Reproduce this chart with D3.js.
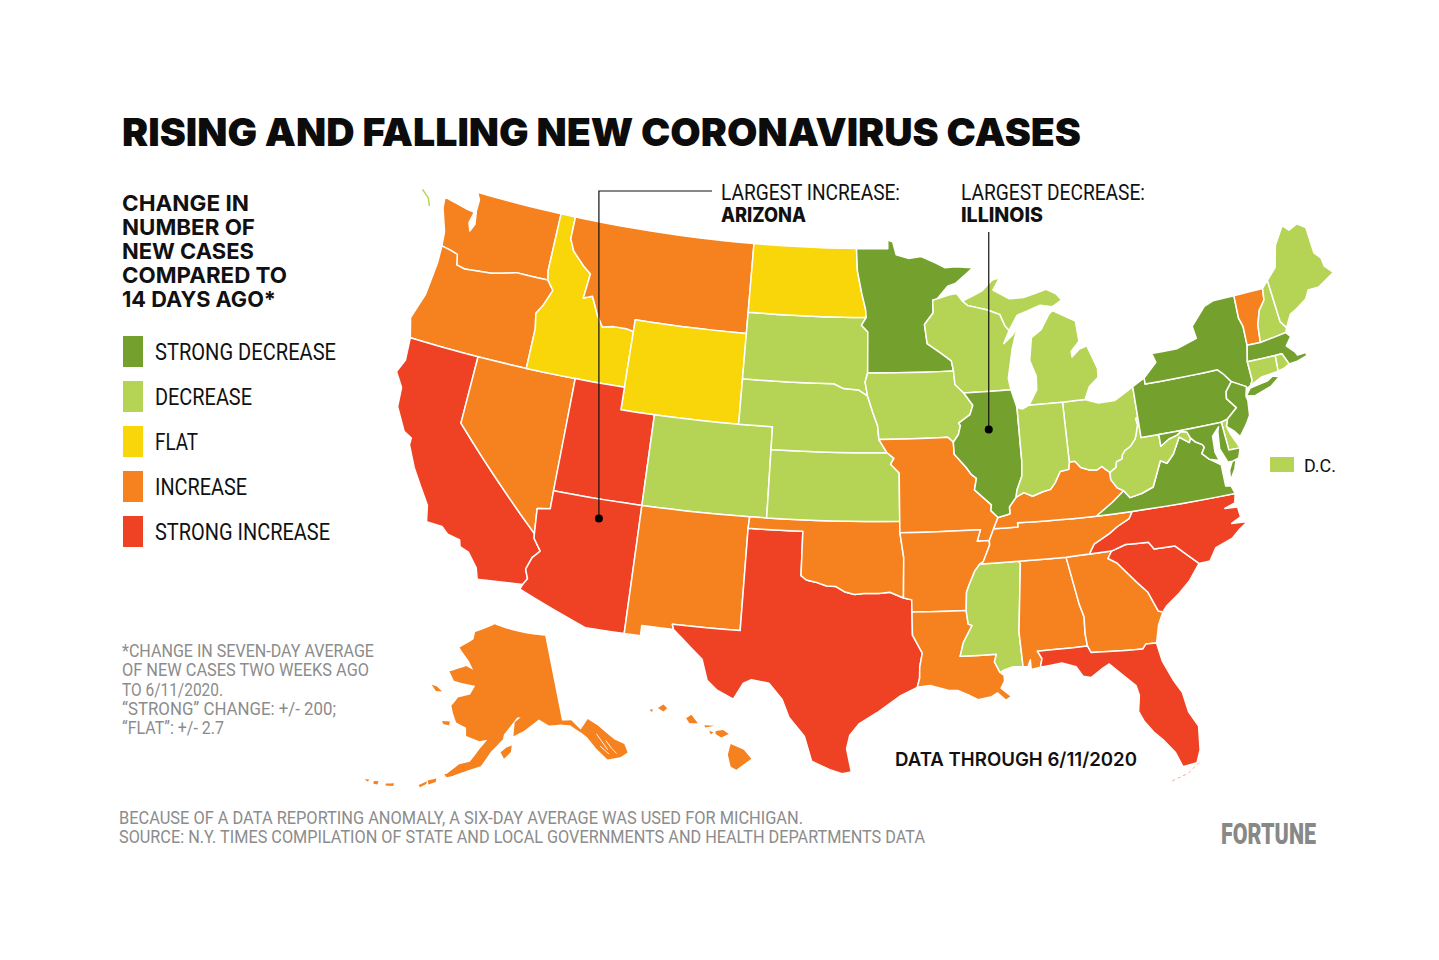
<!DOCTYPE html>
<html>
<head>
<meta charset="utf-8">
<title>Rising and falling new coronavirus cases</title>
<script src="https://cdn.jsdelivr.net/npm/d3@7"></script>
<style>
  html, body { margin: 0; background: #fff; }
  svg { display: block; }
</style>
</head>
<body>
<svg id="chart" width="1439" height="960"></svg>
<script>
//  Legend levels and their colours.
var levels = ["STRONG DECREASE", "DECREASE", "FLAT", "INCREASE", "STRONG INCREASE"];
var levelColors = ["#74a12e", "#b5d455", "#f8d60a", "#f6821f", "#ef4123"];

//  Which level every state falls in.
var strongDecreaseStates = ["MN", "IL", "NY", "PA", "NJ", "MA", "VA", "MD"];
var decreaseStates = ["ME", "NH", "CT", "RI", "DE", "WV", "OH", "IN", "MI", "WI", "IA", "SD", "NE", "KS", "CO", "MS"];
var flatStates = ["ID", "WY", "ND"];
var increaseStates = ["WA", "OR", "NV", "MT", "NM", "OK", "MO", "AR", "LA", "AL", "GA", "TN", "KY", "VT", "AK", "HI"];
var strongIncreaseStates = ["CA", "UT", "AZ", "TX", "FL", "SC", "NC"];

//  Shared river borders, lon/lat.
var ohioWV = [[-80.52,40.64],[-80.66,40.58],[-80.61,40.3],[-80.73,40.0],[-80.87,39.7],[-81.2,39.42],[-81.56,39.27],[-81.76,39.08],[-81.8,38.93],[-82.14,38.84],[-82.22,38.6],[-82.59,38.42]];
var ohioKY = [[-82.85,38.6],[-83.0,38.73],[-83.3,38.6],[-83.76,38.65],[-84.2,38.8],[-84.5,39.1],[-84.82,39.1]];
var indianaKY = [[-84.9,38.78],[-85.4,38.73],[-85.75,38.27],[-86.05,38.0],[-86.5,37.93],[-87.1,37.78],[-87.57,37.97],[-88.03,37.8]];
var illinoisKY = [[-88.45,37.4],[-88.45,37.1],[-88.6,37.07],[-89.13,36.98]];
var wabash = [[-87.95,38.1],[-87.6,38.7],[-87.53,39.35]];
var westVirginiaKY = [[-82.6,38.1],[-82.3,37.7],[-81.97,37.54]];
var kentuckyTN = [[-83.68,36.6],[-85.0,36.62],[-86.5,36.65],[-88.07,36.68],[-88.07,36.5],[-89.42,36.5]];
var missouriIL = [[-89.5,37.3],[-89.45,37.55],[-89.9,37.9],[-90.35,38.25],[-90.2,38.75],[-90.5,38.95],[-90.75,39.25],[-91.4,39.85],[-91.42,40.38]];
var iowaIL = [[-91.1,40.7],[-90.95,41.1],[-91.05,41.2],[-90.35,41.55],[-90.15,41.95],[-90.65,42.51]];
var iowaWI = [[-91.15,42.9],[-91.2,43.5]];
var minnesotaWI = [[-91.3,43.95],[-91.9,44.3],[-92.75,44.75],[-92.88,45.6],[-92.3,46.1],[-92.3,46.66],[-92.02,46.71]];
var arkansasEast = [[-89.7,35.8],[-90.1,35.1],[-90.3,35.0],[-90.6,34.7],[-90.95,34.1],[-91.1,33.8],[-91.17,33.0]];
var louisianaMS = [[-91.1,32.4],[-90.9,32.33],[-91.4,31.6],[-91.6,31.0],[-89.73,31.0],[-89.85,30.67],[-89.6,30.2]];
var virginiaWV = [[-77.83,39.13],[-78.35,39.45],[-78.85,38.77],[-79.3,38.42],[-79.65,38.58],[-80.3,37.5],[-81.0,37.3],[-81.68,37.2],[-81.97,37.54]];
var potomac = [[-77.04,38.8],[-77.12,38.93],[-77.5,39.12],[-77.72,39.32]];
var marylandWV = [[-77.85,39.6],[-78.2,39.68],[-78.45,39.55],[-78.95,39.45],[-79.48,39.2]];
var idahoMT = [[-116.05,48.0],[-115.7,47.5],[-114.9,46.95],[-114.35,46.65],[-114.5,45.55],[-113.95,45.7],[-113.45,44.95],[-113.0,44.45],[-112.3,44.55],[-111.5,44.55],[-111.05,44.48]];
var snake = [[-117.03,43.8],[-117.2,44.45],[-116.85,44.9],[-116.47,45.6],[-116.92,46.0]];
var columbia = [[-124.0,46.27],[-123.4,46.2],[-122.9,46.1],[-122.75,45.65],[-122.2,45.57],[-121.2,45.65],[-120.5,45.7],[-119.3,45.93],[-118.98,46.0],[-116.92,46.0]];
var colorado = [[-114.63,35.0],[-114.6,34.8],[-114.14,34.3],[-114.5,33.95],[-114.72,33.4],[-114.52,33.0],[-114.72,32.72]];
var redRiver = [[-100.0,34.56],[-99.7,34.38],[-99.2,34.3],[-98.6,34.15],[-98.1,34.13],[-97.6,33.9],[-97.1,33.8],[-96.6,33.85],[-95.8,33.85],[-95.2,33.9],[-94.48,33.64]];
var sabine = [[-94.04,32.0],[-93.55,31.2],[-93.7,30.6],[-93.72,30.1],[-93.85,29.7]];
var savannah = [[-83.35,34.7],[-82.9,34.45],[-82.0,33.5],[-81.5,33.0],[-81.1,32.1],[-80.87,32.03]];
var carolinas = [[-82.3,35.2],[-81.05,35.15],[-80.8,34.82],[-79.67,34.8],[-78.55,33.86]];
var tennesseeNC = [[-81.68,36.59],[-81.9,36.3],[-82.6,36.03],[-83.1,35.77],[-84.0,35.4],[-84.32,35.0]];
var missouriKS = [[-95.3,40.0],[-94.9,39.75],[-95.1,39.5],[-94.61,39.11],[-94.62,37.0]];
var iowaNE = [[-95.77,40.58],[-95.85,41.2],[-96.1,41.7],[-96.45,42.49]];
var northDakotaMN = [[-97.23,49.0],[-97.15,48.0],[-96.85,47.0],[-96.6,46.3],[-96.56,45.94]];
var southDakotaMN = [[-96.56,45.94],[-96.85,45.6],[-96.45,45.3],[-96.45,43.5],[-96.6,43.1],[-96.45,42.49]];
var southDakotaNE = [[-97.0,42.75],[-97.9,42.8],[-98.5,43.0],[-104.05,43.0]];
var delawareRiver = [[-75.05,41.75],[-74.7,41.36],[-75.13,40.98],[-75.2,40.68],[-74.75,40.2],[-75.4,39.8]];
var connecticutRiver = [[-71.5,45.01],[-71.6,44.5],[-72.05,44.1],[-72.35,43.5],[-72.46,42.73]];
var vermontNY = [[-73.35,45.01],[-73.4,44.0],[-73.25,43.6],[-73.28,42.75]];

function rev(line) { return line.slice().reverse(); }

//  State outlines, lon/lat.
var WA = [[-117.03,49.0],[-122.76,49.0],[-122.5,48.7],[-122.5,48.2],[-122.35,47.6],[-122.55,47.25],[-122.75,47.6],[-122.6,48.1],[-123.1,48.15],[-124.73,48.38],[-124.65,47.9],[-124.1,46.9]].concat(columbia, [[-117.04,46.4]]);
var OR = columbia.concat(rev(snake), [[-117.03,42.0],[-124.21,42.0],[-124.55,42.84],[-124.1,44.0],[-123.95,45.5]]);
var CA = [[-124.21,42.0],[-120.0,42.0],[-120.0,39.0]].concat(colorado, [[-117.12,32.53],[-117.3,33.0],[-117.9,33.6],[-118.4,33.75],[-118.5,34.03],[-119.2,34.15],[-119.6,34.42],[-120.47,34.45],[-120.65,35.15],[-121.9,36.6],[-122.5,37.5],[-122.5,37.8],[-123.0,38.0],[-123.75,38.95],[-123.85,39.8],[-124.4,40.4],[-124.1,41.0]]);
var NV = [[-120.0,42.0],[-114.04,42.0],[-114.04,36.2],[-114.75,36.1],[-114.63,35.0],[-120.0,39.0]];
var ID = [[-117.03,49.0],[-116.05,49.0]].concat(idahoMT, [[-111.05,42.0],[-117.03,42.0]], snake, [[-117.04,46.4]]);
var MT = [[-116.05,49.0],[-104.05,49.0],[-104.05,45.0],[-111.05,45.0]].concat(rev(idahoMT));
var WY = [[-111.05,45.0],[-104.05,45.0],[-104.05,41.0],[-111.05,41.0]];
var UT = [[-114.04,42.0],[-111.05,42.0],[-111.05,41.0],[-109.05,41.0],[-109.05,37.0],[-114.05,37.0]];
var CO = [[-109.05,41.0],[-102.05,41.0],[-102.05,37.0],[-109.05,37.0]];
var AZ = [[-114.05,37.0],[-109.05,37.0],[-109.05,31.33],[-111.07,31.33],[-114.81,32.49]].concat(rev(colorado), [[-114.75,36.1],[-114.04,36.2]]);
var NM = [[-109.05,37.0],[-103.0,37.0],[-103.04,36.5],[-103.06,32.0],[-106.62,32.0],[-106.53,31.78],[-108.2,31.78],[-108.2,31.33],[-109.05,31.33]];
var TX = [[-103.04,36.5],[-100.0,36.5]].concat(redRiver, [[-94.04,33.55],[-94.04,33.02]], sabine, [[-94.7,29.35],[-95.1,29.1],[-95.9,28.6],[-96.8,28.1],[-97.25,27.6],[-97.4,27.0],[-97.15,25.96],[-97.6,25.88],[-98.2,26.05],[-99.1,26.4],[-99.5,27.5],[-100.3,28.3],[-100.7,29.1],[-101.4,29.77],[-102.3,29.88],[-102.7,29.7],[-103.15,28.97],[-104.0,29.3],[-104.55,29.7],[-104.9,30.6],[-106.0,31.4],[-106.53,31.78],[-106.62,32.0],[-103.06,32.0]]);
var OK = [[-103.0,37.0],[-94.62,37.0],[-94.62,36.5],[-94.43,35.4]].concat(rev(redRiver), [[-100.0,36.5],[-103.04,36.5]]);
var KS = [[-102.05,40.0]].concat(missouriKS, [[-102.05,37.0]]);
var NE = [[-104.05,43.0]].concat(rev(southDakotaNE), rev(iowaNE), [[-95.3,40.0],[-102.05,40.0],[-102.05,41.0],[-104.05,41.0]]);
var SD = [[-104.05,45.94]].concat(southDakotaMN, southDakotaNE);
var ND = [[-104.05,49.0]].concat(northDakotaMN, [[-104.05,45.94]]);
var MN = [[-97.23,49.0],[-95.15,49.0],[-95.15,49.38],[-94.82,49.3],[-94.6,48.72],[-93.8,48.55],[-92.95,48.62],[-92.0,48.3],[-91.4,48.07],[-90.75,48.1],[-89.6,48.0],[-90.8,47.35],[-91.3,47.25],[-92.02,46.71]].concat(rev(minnesotaWI), [[-91.2,43.5],[-96.45,43.5]], rev(southDakotaMN).slice(2), rev(northDakotaMN));
var IA = [[-96.45,43.5],[-91.2,43.5]].concat(rev(iowaWI), rev(iowaIL), [[-91.42,40.38],[-91.73,40.61]], iowaNE, [[-96.6,43.1]]);
var MO = [[-95.77,40.58],[-91.73,40.61],[-91.42,40.38]].concat(rev(missouriIL), [[-89.13,36.98],[-89.42,36.5],[-89.7,36.0],[-90.37,36.0],[-90.15,36.5],[-94.62,36.5],[-94.62,37.0]], rev(missouriKS));
var AR = [[-94.62,36.5],[-90.15,36.5],[-90.37,36.0],[-89.7,36.0]].concat(arkansasEast, [[-94.04,33.02],[-94.04,33.55],[-94.48,33.64],[-94.43,35.4]]);
var LA = [[-94.04,33.02],[-91.17,33.0]].concat(louisianaMS, [[-89.4,30.05],[-89.4,29.8],[-89.6,29.5],[-89.1,29.1],[-89.4,28.95],[-89.8,29.3],[-90.1,29.15],[-90.8,29.05],[-91.3,29.3],[-91.8,29.5],[-92.3,29.53],[-93.2,29.77]], rev(sabine));
var MS = [[-91.17,33.0],[-91.1,33.8],[-90.95,34.1],[-90.6,34.7],[-90.3,35.0],[-88.2,35.0],[-88.1,34.9],[-88.47,31.9],[-88.4,30.37],[-88.9,30.4],[-89.35,30.3]].concat(rev(louisianaMS));
var AL = [[-88.2,35.0],[-85.6,34.98],[-85.18,32.87],[-85.0,32.3],[-85.05,31.55],[-85.0,31.0],[-87.6,31.0],[-87.4,30.65],[-87.52,30.28],[-88.0,30.22],[-88.0,30.65],[-88.15,30.35],[-88.4,30.37],[-88.47,31.9],[-88.1,34.9]];
var GA = [[-85.6,34.98],[-83.11,35.0]].concat(savannah, [[-81.2,31.5],[-81.45,30.72],[-82.0,30.75],[-82.2,30.55],[-84.86,30.7],[-85.0,31.0],[-85.05,31.55],[-85.0,32.3],[-85.18,32.87]]);
var FL = [[-87.6,31.0],[-85.0,31.0],[-84.86,30.7],[-82.2,30.55],[-82.0,30.75],[-81.45,30.72],[-81.3,29.9],[-80.9,29.0],[-80.55,28.4],[-80.4,27.5],[-80.03,26.8],[-80.15,25.75],[-80.4,25.2],[-81.1,25.13],[-81.35,25.8],[-81.85,26.45],[-82.25,26.85],[-82.65,27.4],[-82.85,27.85],[-82.7,28.55],[-82.8,29.0],[-83.4,29.55],[-84.0,30.1],[-84.35,29.95],[-85.0,29.6],[-85.4,29.7],[-85.7,30.15],[-86.4,30.38],[-87.52,30.28],[-87.4,30.65]];
var SC = [[-83.11,35.0]].concat(carolinas, [[-79.2,33.2],[-79.9,32.7],[-80.65,32.25]], rev(savannah));
var NC = [[-84.32,35.0],[-83.11,35.0]].concat(carolinas, [[-77.95,33.87],[-77.5,34.4],[-76.55,34.65],[-76.0,35.0],[-75.53,35.23],[-76.4,35.3],[-75.85,35.5],[-75.9,35.95],[-76.6,36.0],[-76.0,36.15],[-75.87,36.55]], tennesseeNC);
var TN = [[-90.3,35.0],[-88.2,35.0],[-85.6,34.98],[-84.32,35.0]].concat(rev(tennesseeNC), kentuckyTN, [[-89.7,36.0],[-89.7,35.8],[-90.1,35.1]]);
var KY = [[-89.13,36.98]].concat(rev(illinoisKY).slice(1), [[-88.03,37.8]], rev(indianaKY).slice(1), [[-84.82,39.1]], rev(ohioKY).slice(1), [[-82.59,38.42]], westVirginiaKY, [[-82.7,37.1]], kentuckyTN);
var VA = [[-83.68,36.6],[-81.68,36.59],[-75.87,36.55],[-76.0,36.9],[-76.3,36.95],[-76.3,37.5],[-76.3,37.9],[-76.9,38.25],[-77.25,38.55]].concat(potomac, virginiaWV, [[-82.7,37.1]]);
var VAShore = [[-75.97,37.15],[-75.6,37.6],[-75.4,38.02],[-75.65,37.95],[-75.9,37.6]];
var WV = [[-80.52,40.64],[-80.52,39.72],[-79.48,39.72]].concat(rev(marylandWV), [[-77.72,39.32]], virginiaWV, rev(westVirginiaKY), [[-82.59,38.42]], rev(ohioWV));
var OH = [[-80.52,41.98]].concat(ohioWV, ohioKY, [[-84.8,41.73],[-83.45,41.73],[-82.7,41.5],[-81.7,41.5]]);
var MI = [[-84.8,41.73],[-86.8,41.76],[-86.25,42.4],[-86.2,43.0],[-86.5,43.7],[-86.25,44.7],[-85.6,45.0],[-85.0,45.65],[-84.75,45.78],[-83.4,45.2],[-83.35,44.3],[-83.9,43.9],[-83.9,43.65],[-83.4,43.95],[-82.9,44.05],[-82.45,43.0],[-82.5,42.6],[-83.1,42.25],[-83.45,41.73]];
var MIUpper = [[-90.4,46.55],[-89.1,46.95],[-88.4,47.4],[-87.9,47.47],[-88.4,46.95],[-87.4,46.5],[-86.5,46.5],[-85.0,46.75],[-84.4,46.5],[-84.1,46.2],[-84.75,45.95],[-85.5,46.08],[-86.3,45.9],[-87.0,45.75],[-87.6,45.1],[-87.85,45.35],[-88.1,45.85],[-88.9,46.1],[-90.1,46.35]];
var WI = [[-92.02,46.71],[-91.2,46.87],[-90.75,46.9],[-90.4,46.55],[-90.1,46.35],[-88.9,46.1],[-88.1,45.85],[-87.85,45.35],[-87.6,45.1],[-88.0,44.55],[-87.4,44.9],[-87.05,45.25],[-87.5,44.3],[-87.9,43.0],[-87.8,42.5],[-90.65,42.51]].concat(iowaWI, minnesotaWI);
var IL = [[-90.65,42.51],[-87.8,42.5],[-87.53,41.71],[-87.53,39.35]].concat(rev(wabash), [[-88.03,37.8]], illinoisKY, missouriIL, iowaIL);
var IN = [[-87.53,41.71],[-87.2,41.62],[-86.8,41.76],[-84.8,41.73],[-84.82,39.1]].concat(indianaKY, wabash);
var PA = [[-80.52,41.98],[-79.76,42.27],[-79.76,42.0],[-75.35,42.0]].concat(delawareRiver, [[-75.79,39.72],[-80.52,39.72]]);
var NY = [[-79.76,42.27],[-78.9,42.85],[-79.05,43.27],[-77.5,43.27],[-76.2,43.55],[-76.3,44.1],[-75.3,44.85],[-74.7,45.0]].concat(vermontNY, [[-73.5,42.05],[-73.48,41.2],[-73.65,41.0],[-73.9,40.9],[-73.9,41.0],[-74.7,41.36],[-75.05,41.75],[-75.35,42.0],[-79.76,42.0]]);
var LongIsland = [[-74.03,40.6],[-73.7,40.9],[-72.6,41.03],[-72.25,41.18],[-71.87,41.07],[-72.5,40.75],[-73.5,40.53]];
var VT = [[-73.35,45.01]].concat(connecticutRiver, rev(vermontNY));
var NH = [[-71.5,45.01],[-71.08,45.3],[-70.98,43.4],[-70.7,43.07],[-70.82,42.87]].concat(rev(connecticutRiver));
var ME = [[-71.08,45.3],[-70.4,45.75],[-70.0,46.7],[-69.23,47.46],[-68.9,47.18],[-68.3,47.35],[-67.8,47.07],[-67.78,45.9],[-67.45,45.6],[-67.4,45.2],[-66.97,44.82],[-68.1,44.4],[-68.8,44.4],[-69.1,44.05],[-69.8,43.75],[-70.25,43.6],[-70.7,43.07],[-70.98,43.4]];
var MA = [[-73.5,42.05],[-73.28,42.75],[-72.46,42.73],[-70.82,42.87],[-70.6,42.65],[-71.0,42.3],[-70.6,41.95],[-70.5,41.78],[-70.0,41.8],[-70.05,42.05],[-70.2,42.07],[-69.95,41.9],[-69.98,41.65],[-70.65,41.52],[-71.12,41.5],[-71.38,42.02],[-71.8,42.02]];
var RI = [[-71.8,42.02],[-71.38,42.02],[-71.12,41.5],[-71.5,41.37],[-71.86,41.32]];
var CT = [[-73.5,42.05],[-71.8,42.02],[-71.86,41.32],[-72.9,41.25],[-73.65,41.0],[-73.48,41.2]];
var NJ = [[-74.7,41.36],[-73.9,41.0],[-74.05,40.6],[-74.0,40.4],[-74.1,39.75],[-74.4,39.4],[-74.9,38.93],[-75.15,39.2],[-75.55,39.5],[-75.4,39.8],[-74.75,40.2],[-75.2,40.68],[-75.13,40.98]];
var DE = [[-75.79,39.72],[-75.4,39.8],[-75.55,39.5],[-75.4,39.1],[-75.05,38.45],[-75.7,38.46]];
var MD = [[-79.48,39.72],[-75.79,39.72],[-75.7,38.46],[-75.05,38.45],[-75.25,38.03],[-75.65,37.95],[-75.9,37.95],[-76.2,38.6],[-76.1,39.35],[-76.0,39.55],[-76.45,39.2],[-76.5,38.5],[-76.35,38.1],[-76.9,38.25],[-77.25,38.55]].concat(potomac, marylandWV);

//  Alaska and Hawaii have their own insets.
var AK = [[-141.0,69.65],[-141.0,60.3],[-139.0,60.1],[-137.5,58.9],[-135.5,59.8],[-133.8,58.8],[-131.5,56.8],[-130.0,56.0],[-130.0,55.0],[-131.5,54.8],[-134.0,55.0],[-135.5,56.5],[-136.6,57.9],[-137.5,58.5],[-139.5,59.6],[-141.5,59.9],[-144.0,60.0],[-146.0,60.8],[-148.0,60.2],[-149.5,59.7],[-151.8,59.2],[-151.4,60.7],[-150.0,61.2],[-150.8,61.2],[-152.5,60.2],[-153.8,59.4],[-154.0,58.9],[-156.5,57.5],[-158.3,55.9],[-160.5,55.4],[-163.0,54.7],[-164.7,54.6],[-162.5,55.9],[-160.5,56.3],[-158.7,57.8],[-157.3,58.8],[-158.9,58.6],[-161.8,59.0],[-162.0,59.9],[-164.3,60.3],[-165.3,61.2],[-166.0,62.0],[-164.8,63.0],[-162.0,63.5],[-161.0,64.5],[-163.0,64.55],[-166.5,64.7],[-168.1,65.6],[-164.0,66.5],[-162.0,66.2],[-163.5,67.1],[-166.7,68.35],[-163.0,69.5],[-162.8,70.3],[-156.7,71.35],[-152.0,70.8],[-146.0,70.15]];
var Kodiak = [[-154.5,57.5],[-153.3,58.0],[-152.2,58.2],[-152.4,57.5],[-153.8,56.8]];
var StLawrence = [[-171.7,63.75],[-170.3,63.7],[-168.8,63.3],[-170.3,63.2]];
var Nunivak = [[-167.4,60.2],[-165.7,60.3],[-165.7,59.9],[-167.0,59.9]];
var Unimak = [[-165.0,54.6],[-163.3,55.0],[-163.2,54.6],[-164.5,54.3]];
var Unalaska = [[-167.8,53.6],[-166.3,54.0],[-166.3,53.6],[-167.5,53.2]];
var Umnak = [[-169.2,52.9],[-167.9,53.5],[-167.9,53.2],[-168.9,52.7]];
var Atka = [[-174.9,52.1],[-173.5,52.4],[-173.5,52.1],[-174.8,51.9]];
var Adak = [[-177.0,51.95],[-176.2,52.1],[-176.2,51.7],[-176.9,51.65]];
var Attu = [[-178.6,51.75],[-177.9,51.95],[-177.9,51.65]];
var BigIsland = [[-155.9,20.25],[-155.2,19.95],[-154.8,19.5],[-155.6,18.95],[-155.9,19.1],[-156.05,19.7]];
var Maui = [[-156.7,20.9],[-156.3,20.95],[-156.0,20.75],[-156.4,20.58],[-156.7,20.75]];
var Molokai = [[-157.3,21.2],[-156.75,21.17],[-157.25,21.08]];
var Lanai = [[-157.05,20.9],[-156.82,20.85],[-156.95,20.73]];
var Oahu = [[-158.28,21.55],[-158.0,21.72],[-157.65,21.3],[-158.1,21.3]];
var Kauai = [[-159.8,22.05],[-159.5,22.23],[-159.3,22.05],[-159.5,21.88]];
var Niihau = [[-160.25,21.95],[-160.08,22.0],[-160.1,21.85]];

//  Thin bits that are lines rather than shapes.
var sliver = [[-126.3,48.4],[-125.76,48.12],[-125.54,47.8]];
var floridaKeys = [[-80.3,25.2],[-80.9,24.8],[-81.8,24.55]];
var inletA = [[-134.6,58.0],[-134.0,57.0],[-133.4,56.0]];
var inletB = [[-133.2,57.0],[-132.6,56.0],[-132.0,55.3]];
var inletC = [[-134.6,56.6],[-133.4,55.5]];

var stateRings = {
  WA:[WA], OR:[OR], CA:[CA], NV:[NV], ID:[ID], MT:[MT], WY:[WY], UT:[UT], CO:[CO], AZ:[AZ], NM:[NM], TX:[TX], OK:[OK],
  KS:[KS], NE:[NE], SD:[SD], ND:[ND], MN:[MN], IA:[IA], MO:[MO], AR:[AR], LA:[LA], MS:[MS], AL:[AL], GA:[GA], FL:[FL],
  SC:[SC], NC:[NC], TN:[TN], KY:[KY], VA:[VA, VAShore], WV:[WV], OH:[OH], MI:[MI, MIUpper], WI:[WI], IL:[IL], IN:[IN],
  PA:[PA], NY:[NY, LongIsland], VT:[VT], NH:[NH], ME:[ME], MA:[MA], RI:[RI], CT:[CT], NJ:[NJ], DE:[DE], MD:[MD],
  AK:[AK, Kodiak, StLawrence, Nunivak, Unimak, Unalaska, Umnak, Atka, Adak, Attu],
  HI:[BigIsland, Maui, Molokai, Lanai, Oahu, Kauai, Niihau]
};

//  Callouts.
var increaseLabel = ["LARGEST INCREASE:", "ARIZONA"];
var decreaseLabel = ["LARGEST DECREASE:", "ILLINOIS"];
var arizonaPoint = [-111.3, 36.15];
var illinoisPoint = [-89.3, 40.85];

//  Text blocks: [label, width in px].
var headingLines = [["CHANGE IN",127],["NUMBER OF",133],["NEW CASES",132],["COMPARED TO",165],["14 DAYS AGO*",154]];
var legendWidths = [181, 97, 43, 92, 175];
var noteLines = [["*CHANGE IN SEVEN-DAY AVERAGE",252],["OF NEW CASES TWO WEEKS AGO",247],["TO 6/11/2020.",101],["\u201CSTRONG\u201D CHANGE: +/- 200;",214],["\u201CFLAT\u201D: +/- 2.7",102]];
var sourceLines = [["BECAUSE OF A DATA REPORTING ANOMALY, A SIX-DAY AVERAGE WAS USED FOR MICHIGAN.",684],["SOURCE: N.Y. TIMES COMPILATION OF STATE AND LOCAL GOVERNMENTS AND HEALTH DEPARTMENTS DATA",806]];

var svg = d3.select("#chart");

var color = d3.scaleOrdinal(levels, levelColors);
var stateLevel = {};
[strongDecreaseStates, decreaseStates, flatStates, increaseStates, strongIncreaseStates].forEach(function(list, i) {
  list.forEach(function(code) { stateLevel[code] = levels[i]; });
});

var lower48 = d3.geoAlbers().rotate([96, 0]).center([0, 37.5]).parallels([29.5, 45.5]).scale(1298).translate([875, 510]);
var alaska = d3.geoConicEqualArea().rotate([154, 0]).center([0, 60]).parallels([55, 65]).scale(530).translate([503, 729]);
var hawaii = d3.geoConicEqualArea().rotate([157, 0]).center([0, 20.5]).parallels([8, 18]).scale(1140).translate([710, 739]);

var projectionFor = function(code) {
  if (code === "AK") return alaska;
  if (code === "HI") return hawaii;
  return lower48;
};

//  Straight border runs have to follow the parallels, so cut long segments up before projecting.
var subdivide = function(ring) {
  var points = [];
  ring.forEach(function(p, i) {
    var q = ring[(i + 1) % ring.length];
    var steps = Math.max(1, Math.ceil(Math.abs(q[0] - p[0])));
    d3.range(steps).forEach(function(s) {
      points.push([p[0] + (q[0] - p[0]) * s / steps, p[1] + (q[1] - p[1]) * s / steps]);
    });
  });
  return points;
};

var ringPath = function(ring, projection) {
  return d3.line().curve(d3.curveLinearClosed)(subdivide(ring).map(function(p) { return projection(p); }));
};

var openLine = function(points, projection) {
  return d3.line()(points.map(function(p) { return projection(p); }));
};

var textLine = function(parent, label, x, y, width, size, family, weight, fill) {
  return parent.append("text")
    .attr("x", x).attr("y", y)
    .attr("textLength", width).attr("lengthAdjust", "spacingAndGlyphs")
    .style("font-family", family).style("font-size", size + "px")
    .style("font-weight", weight).style("fill", fill)
    .text(label);
};

var HEAVY = "Inter, 'Liberation Sans', sans-serif";
var NARROW = "Roboto, 'Liberation Sans', sans-serif";
var INK = "#111111";
var GREY = "#8c8c8c";

//  Title.
textLine(svg, "RISING AND FALLING NEW CORONAVIRUS CASES", 122, 146, 959, 39, HEAVY, 900, "#0c0c0c");

//  Legend heading.
var headingY = d3.scaleLinear().domain([0, 4]).range([211, 307]);
headingLines.forEach(function(d, i) {
  textLine(svg, d[0], 122, headingY(i), d[1], 22, HEAVY, 700, INK);
});

//  Legend.
var legendY = d3.scalePoint().domain(levels).range([351.5, 531.5]);
var legend = svg.append("g").selectAll("g").data(levels).join("g");
legend.append("rect")
  .attr("x", 123).attr("y", function(d) { return legendY(d) - 15.5; })
  .attr("width", 20).attr("height", 31)
  .attr("fill", function(d) { return color(d); });
legend.each(function(d, i) {
  textLine(d3.select(this), d, 155, legendY(d) + 8.5, legendWidths[i], 23, NARROW, 400, INK);
});

//  States.
svg.append("g").selectAll("path").data(Object.keys(stateRings)).join("path")
  .attr("d", function(code) {
    return stateRings[code].map(function(ring) { return ringPath(ring, projectionFor(code)); }).join("");
  })
  .attr("fill", function(code) { return color(stateLevel[code]); })
  .attr("stroke", function(code) { return (code === "AK" || code === "HI") ? "none" : "#fff"; })
  .attr("stroke-width", 1.5)
  .attr("stroke-linejoin", "round");

svg.append("path")
  .attr("d", openLine(sliver, lower48))
  .attr("fill", "none").attr("stroke", color("DECREASE")).attr("stroke-width", 1.5);
svg.append("path")
  .attr("d", openLine(floridaKeys, lower48))
  .attr("fill", "none").attr("stroke", color("STRONG INCREASE")).attr("stroke-width", 0.8)
  .attr("stroke-opacity", 0.6).attr("stroke-dasharray", "3 3");
[inletA, inletB, inletC].forEach(function(inlet) {
  svg.append("path")
    .attr("d", openLine(inlet, alaska))
    .attr("fill", "none").attr("stroke", "#fff").attr("stroke-width", 0.9);
});

//  D.C. gets its own little key.
svg.append("rect").attr("x", 1270).attr("y", 457).attr("width", 24).attr("height", 15).attr("fill", color("DECREASE"));
textLine(svg, "D.C.", 1304, 472, 32, 19, NARROW, 400, INK);

//  Largest increase callout.
var az = lower48(arizonaPoint);
svg.append("path")
  .attr("d", d3.line()([[712, 191], [az[0], 191], az]))
  .attr("fill", "none").attr("stroke", "#111").attr("stroke-width", 1.2);
svg.append("circle").attr("cx", az[0]).attr("cy", az[1]).attr("r", 4).attr("fill", "#000");
textLine(svg, increaseLabel[0], 721, 200, 179, 22, NARROW, 400, INK);
textLine(svg, increaseLabel[1], 721, 222, 85, 20, HEAVY, 800, INK);

//  Largest decrease callout.
var il = lower48(illinoisPoint);
svg.append("path")
  .attr("d", d3.line()([[il[0], 232], il]))
  .attr("fill", "none").attr("stroke", "#111").attr("stroke-width", 1.2);
svg.append("circle").attr("cx", il[0]).attr("cy", il[1]).attr("r", 4).attr("fill", "#000");
textLine(svg, decreaseLabel[0], 961, 200, 184, 22, NARROW, 400, INK);
textLine(svg, decreaseLabel[1], 961, 222, 82, 20, HEAVY, 800, INK);

textLine(svg, "DATA THROUGH 6/11/2020", 895, 766, 242, 19, HEAVY, 600, INK);

//  Notes.
var noteY = d3.scaleLinear().domain([0, 4]).range([657, 734]);
noteLines.forEach(function(d, i) {
  textLine(svg, d[0], 122, noteY(i), d[1], 18, NARROW, 400, GREY);
});
sourceLines.forEach(function(d, i) {
  textLine(svg, d[0], 119, 824 + i * 19, d[1], 18, NARROW, 400, GREY);
});
textLine(svg, "FORTUNE", 1221, 844, 95, 30, NARROW, 900, "#888888");
</script>
</body>
</html>
